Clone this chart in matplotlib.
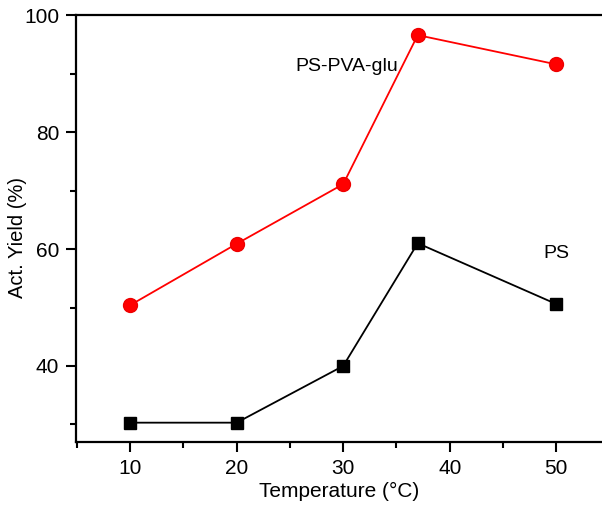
import matplotlib

matplotlib.use("Agg")
import matplotlib.pyplot as plt
from matplotlib.ticker import MultipleLocator

plt.rcParams["font.family"] = ["Liberation Sans", "DejaVu Sans"]

temp = [10, 20, 30, 37, 50]
yield_pva = [50.4, 60.9, 71.1, 96.6, 91.6]  # PS-PVA-glu
yield_ps = [30.3, 30.3, 40.0, 61.0, 50.6]   # PS

fig = plt.figure(figsize=(6.02, 5.08), dpi=100)
ax = fig.add_axes([0.126, 0.13, 0.874, 0.84])

ax.plot(temp, yield_pva, color="#ff0000", lw=1.3, marker="o", ms=10,
        mec="#ee0000", mfc="#ff0000", zorder=3)
ax.plot(temp, yield_ps, color="black", lw=1.3, marker="s", ms=9, zorder=3)

ax.text(30.3, 91.2, "PS-PVA-glu", fontsize=14, ha="center", va="center")
ax.text(50.0, 59.2, "PS", fontsize=14, ha="center", va="center")

ax.set_xlim(4.9, 54.3)
ax.set_ylim(27, 100)
ax.xaxis.set_major_locator(MultipleLocator(10))
ax.xaxis.set_minor_locator(MultipleLocator(5))
ax.yaxis.set_major_locator(MultipleLocator(20))
ax.yaxis.set_minor_locator(MultipleLocator(10))
ax.tick_params(which="major", length=7, width=1.5, labelsize=15, pad=5)
ax.tick_params(which="minor", length=4, width=1.5)

for side in ("left", "bottom", "top"):
    ax.spines[side].set_linewidth(1.6)
ax.spines["right"].set_visible(False)

ax.set_xlabel("Temperature (\u00b0C)", fontsize=15, labelpad=3)
ax.set_ylabel("Act. Yield (%)", fontsize=14.5)
ax.yaxis.set_label_coords(-0.093, 0.48)

fig.savefig("out.png", dpi=100)
